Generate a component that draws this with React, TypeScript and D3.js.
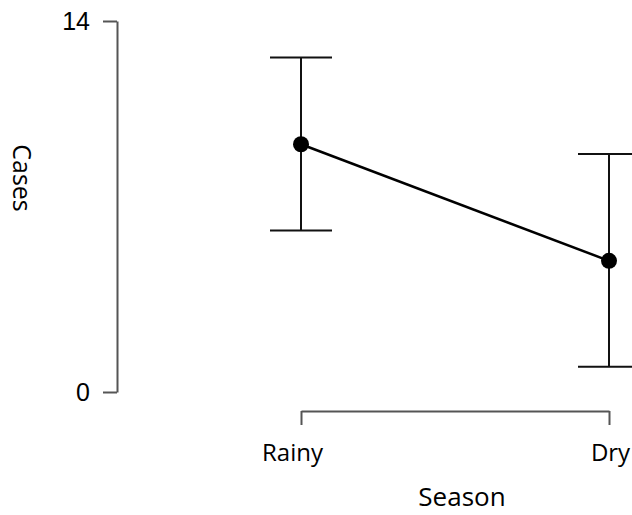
import React, { useEffect, useRef } from "react";
import * as d3 from "d3";

const seasons = ["Rainy", "Dry"];
const means = [9.35, 4.95];
const lower = [6.09, 0.95];
const upper = [12.62, 8.98];
const yTicks = [0, 14];

const App = () => {
  const svgRef = useRef<SVGSVGElement>(null);

  useEffect(() => {
    const width = 632;
    const height = 515;
    const svg = d3.select(svgRef.current);
    svg.selectAll("*").remove();
    svg.attr("width", width).attr("height", height);

    const x = d3.scalePoint<string>().domain(seasons).range([301, 609]);
    const y = d3.scaleLinear().domain([0, 14]).range([392, 21]);

    const axisColor = "#555";
    const labelFont = "'Open Sans', sans-serif";

    // y axis
    const yAxis = svg
      .append("g")
      .attr("transform", "translate(117,0)")
      .call(d3.axisLeft(y).tickValues(yTicks).tickSize(14).tickSizeOuter(0).tickPadding(13));
    yAxis.attr("font-size", null).attr("font-family", null);
    yAxis.select(".domain").attr("stroke", axisColor).attr("stroke-width", 2);
    yAxis.selectAll(".tick line").attr("stroke", axisColor).attr("stroke-width", 2);
    yAxis
      .selectAll(".tick text")
      .attr("fill", "#000")
      .attr("font-family", "'Liberation Sans', Arial, sans-serif")
      .attr("font-size", 25);

    // x axis
    const xAxis = svg
      .append("g")
      .attr("transform", "translate(0,411)")
      .call(d3.axisBottom(x).tickSize(14).tickSizeOuter(0).tickPadding(19));
    xAxis.attr("font-size", null).attr("font-family", null);
    xAxis.select(".domain").attr("stroke", axisColor).attr("stroke-width", 2);
    xAxis.selectAll(".tick line").attr("stroke", axisColor).attr("stroke-width", 2);
    xAxis
      .selectAll(".tick text")
      .attr("fill", "#000")
      .attr("font-family", labelFont)
      .attr("font-size", 24)
      .attr("dx", (_d, i) => (i === 0 ? -9 : 1));

    // axis titles
    svg
      .append("text")
      .attr("transform", "translate(13,178) rotate(90)")
      .attr("text-anchor", "middle")
      .attr("font-family", labelFont)
      .attr("font-size", 25)
      .text("Cases");

    svg
      .append("text")
      .attr("x", 462)
      .attr("y", 506)
      .attr("text-anchor", "middle")
      .attr("font-family", labelFont)
      .attr("font-size", 26)
      .text("Season");

    const data = seasons.map((s, i) => ({ s, m: means[i], lo: lower[i], hi: upper[i] }));
    const cap = 31;

    // error bars
    const bars = svg.append("g").attr("stroke", "#111").attr("stroke-width", 2);
    data.forEach((d) => {
      const cx = x(d.s)!;
      bars.append("line").attr("x1", cx).attr("x2", cx).attr("y1", y(d.hi)).attr("y2", y(d.lo));
      bars.append("line").attr("x1", cx - cap).attr("x2", cx + cap).attr("y1", y(d.hi)).attr("y2", y(d.hi));
      bars.append("line").attr("x1", cx - cap).attr("x2", cx + cap).attr("y1", y(d.lo)).attr("y2", y(d.lo));
    });

    // mean line
    const line = d3
      .line<{ s: string; m: number }>()
      .x((d) => x(d.s)!)
      .y((d) => y(d.m));
    svg
      .append("path")
      .datum(data)
      .attr("d", line)
      .attr("fill", "none")
      .attr("stroke", "#000")
      .attr("stroke-width", 2.5);

    svg
      .selectAll(".pt")
      .data(data)
      .join("circle")
      .attr("class", "pt")
      .attr("cx", (d) => x(d.s)!)
      .attr("cy", (d) => y(d.m))
      .attr("r", 8)
      .attr("fill", "#000");
  }, []);

  return (
    <svg
      ref={svgRef}
      style={{ position: "absolute", left: 0, top: 0, background: "#fff" }}
    ></svg>
  );
};

export default App;
